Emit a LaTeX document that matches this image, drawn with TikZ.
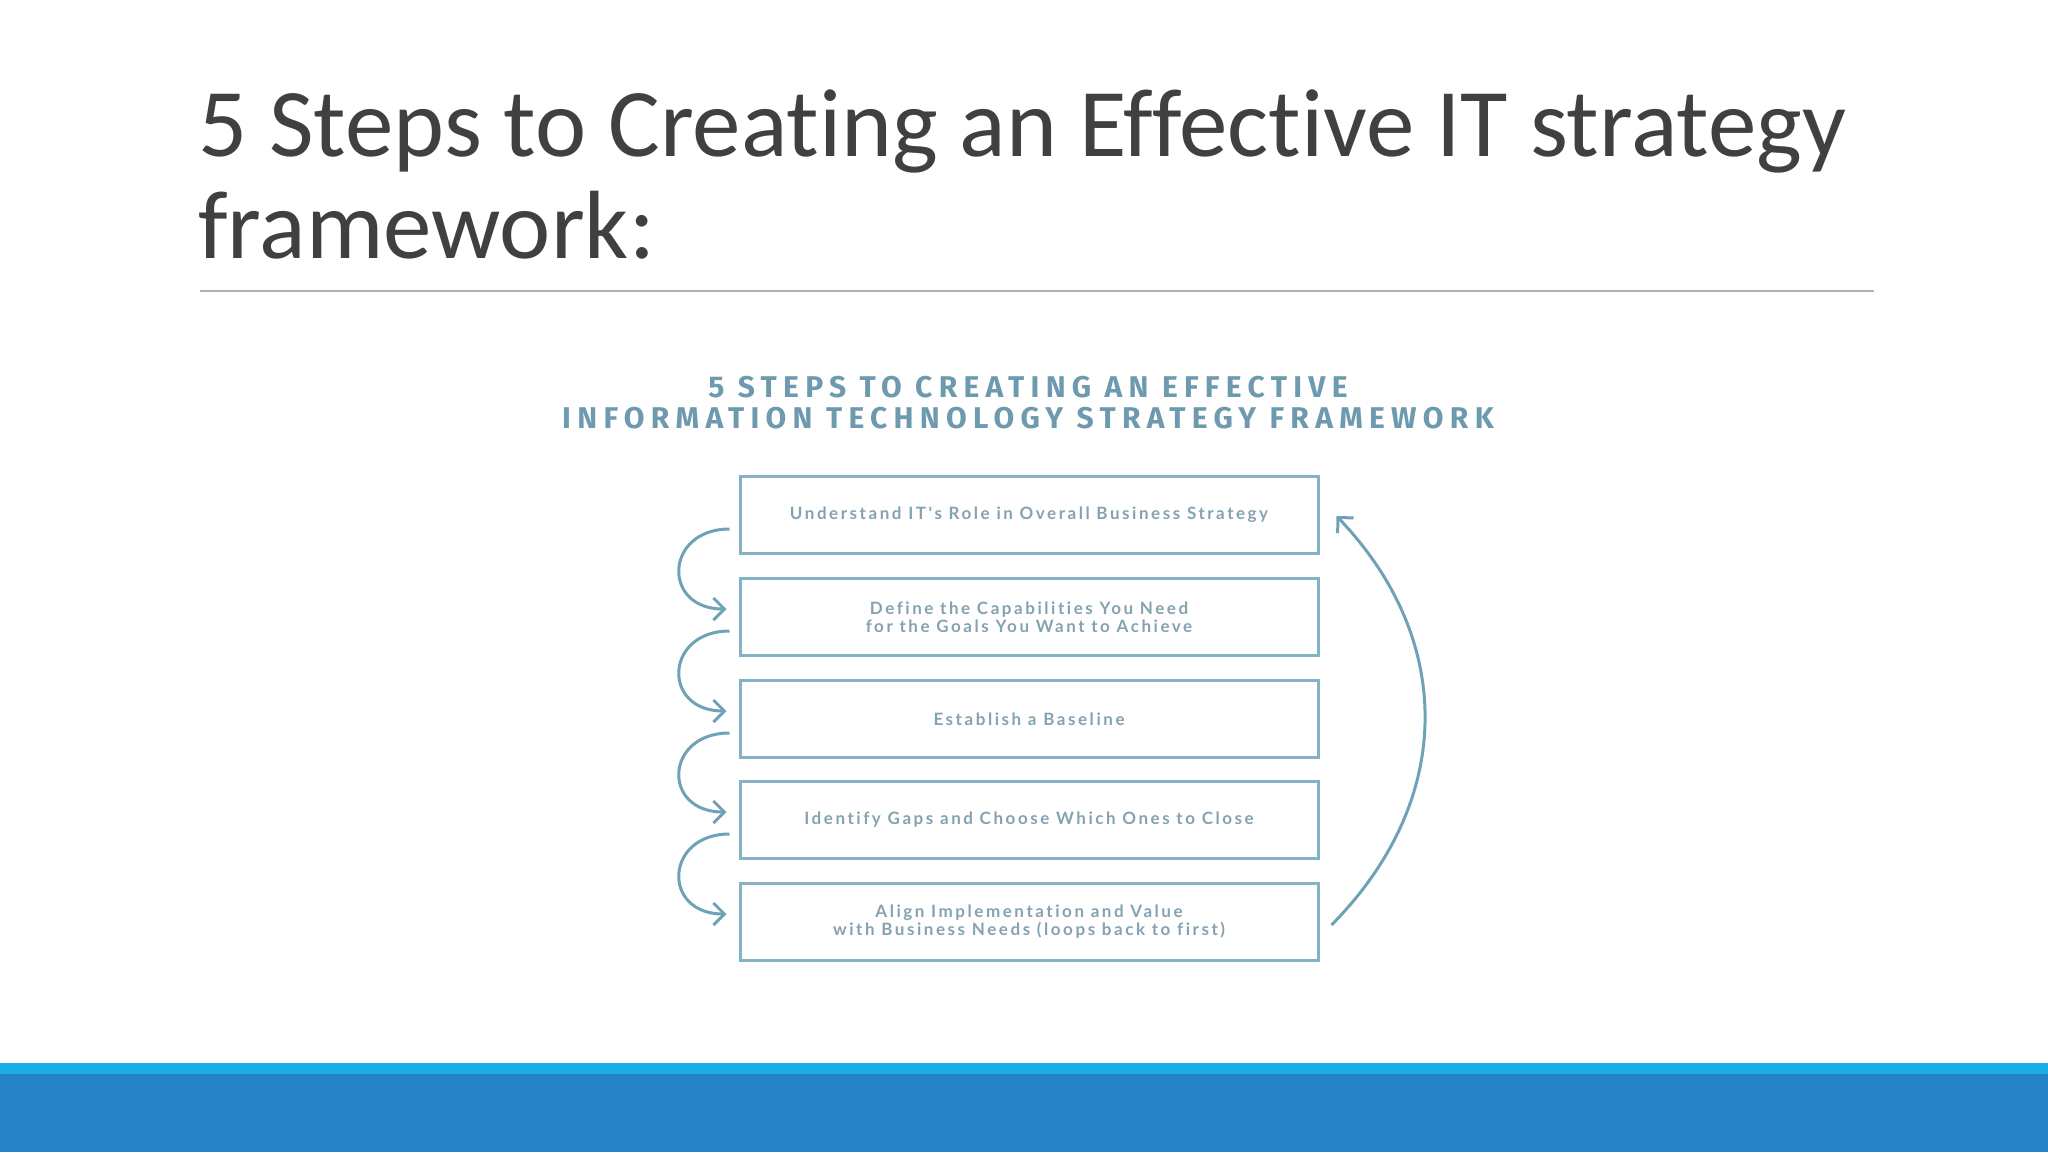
\documentclass[tikz,border=0pt]{standalone}
\usepackage{fontspec}
\setmainfont[Ligatures=NoCommon]{Carlito}
\newfontfamily\framefont[LetterSpace=21]{Fira Sans}
\newfontfamily\stepfont[LetterSpace=15,Ligatures=NoCommon]{Lato}
\usetikzlibrary{arrows.meta}
\definecolor{titlegray}{HTML}{404040}
\definecolor{rulegray}{HTML}{B0B0B0}
\definecolor{framehead}{HTML}{6E9AAF}
\definecolor{boxline}{HTML}{84B3C6}
\definecolor{boxtext}{HTML}{85A2B1}
\definecolor{flowline}{HTML}{6FA1B7}
\definecolor{barlight}{HTML}{1CADE4}
\definecolor{bardark}{HTML}{2683C6}
\tikzset{
  stepbox/.style={draw=boxline, line width=3pt, minimum width=578pt, minimum height=77pt,
    inner sep=0pt, align=center, text=boxtext, font=\stepfont\bfseries\fontsize{17}{18}\selectfont},
  flow/.style={draw=flowline, line width=3pt, -{Straight Barb[length=11pt,width=22pt,line width=3pt]}}
}
\begin{document}
\begin{tikzpicture}[x=1pt,y=-1pt]
  \useasboundingbox (0,0) rectangle (2048,1152);

  % slide title and rule
  \node[anchor=base west, inner sep=0pt, text=titlegray, font=\fontsize{97}{100}\selectfont]
    (title) at (198,156) {5 Steps to Creating an Effective IT strategy};
  \node[anchor=base west, inner sep=0pt, text=titlegray, font=\fontsize{97}{100}\selectfont]
    (titlecont) at (198,258) {framework:};
  \draw[rulegray, line width=2pt] (200,291) -- (1874,291);

  % framework picture
  \node[align=center, text=framehead, font=\framefont\bfseries\fontsize{30}{31}\selectfont]
    (framehead) at (1028,403) {5 STEPS TO CREATING AN EFFECTIVE\\INFORMATION TECHNOLOGY STRATEGY FRAMEWORK};

  \node[stepbox] (s1) at (1029,515) {Understand IT's Role in Overall Business Strategy};
  \node[stepbox] (s2) at (1029,617) {Define the Capabilities You Need\\for the Goals You Want to Achieve};
  \node[stepbox] (s3) at (1029,719) {Establish a Baseline};
  \node[stepbox] (s4) at (1029,820) {Identify Gaps and Choose Which Ones to Close};
  \node[stepbox] (s5) at (1029,922) {Align Implementation and Value\\with Business Needs (loops back to first)};

  \foreach \a/\b in {s1/s2,s2/s3,s3/s4,s4/s5}
    \draw[flow] ([shift={(-9,14)}]\a.west) .. controls +(-65,0) and +(-65,0) .. ([shift={(-12,-8)}]\b.west);

  \draw[flow] ([shift={(12,3)}]s5.east) .. controls (1455,800) and (1455,640) .. ([shift={(17,1)}]s1.east);

  % bottom band
  \fill[barlight] (0,1063) rectangle (2048,1074);
  \fill[bardark] (0,1074) rectangle (2048,1152);
\end{tikzpicture}
\end{document}
